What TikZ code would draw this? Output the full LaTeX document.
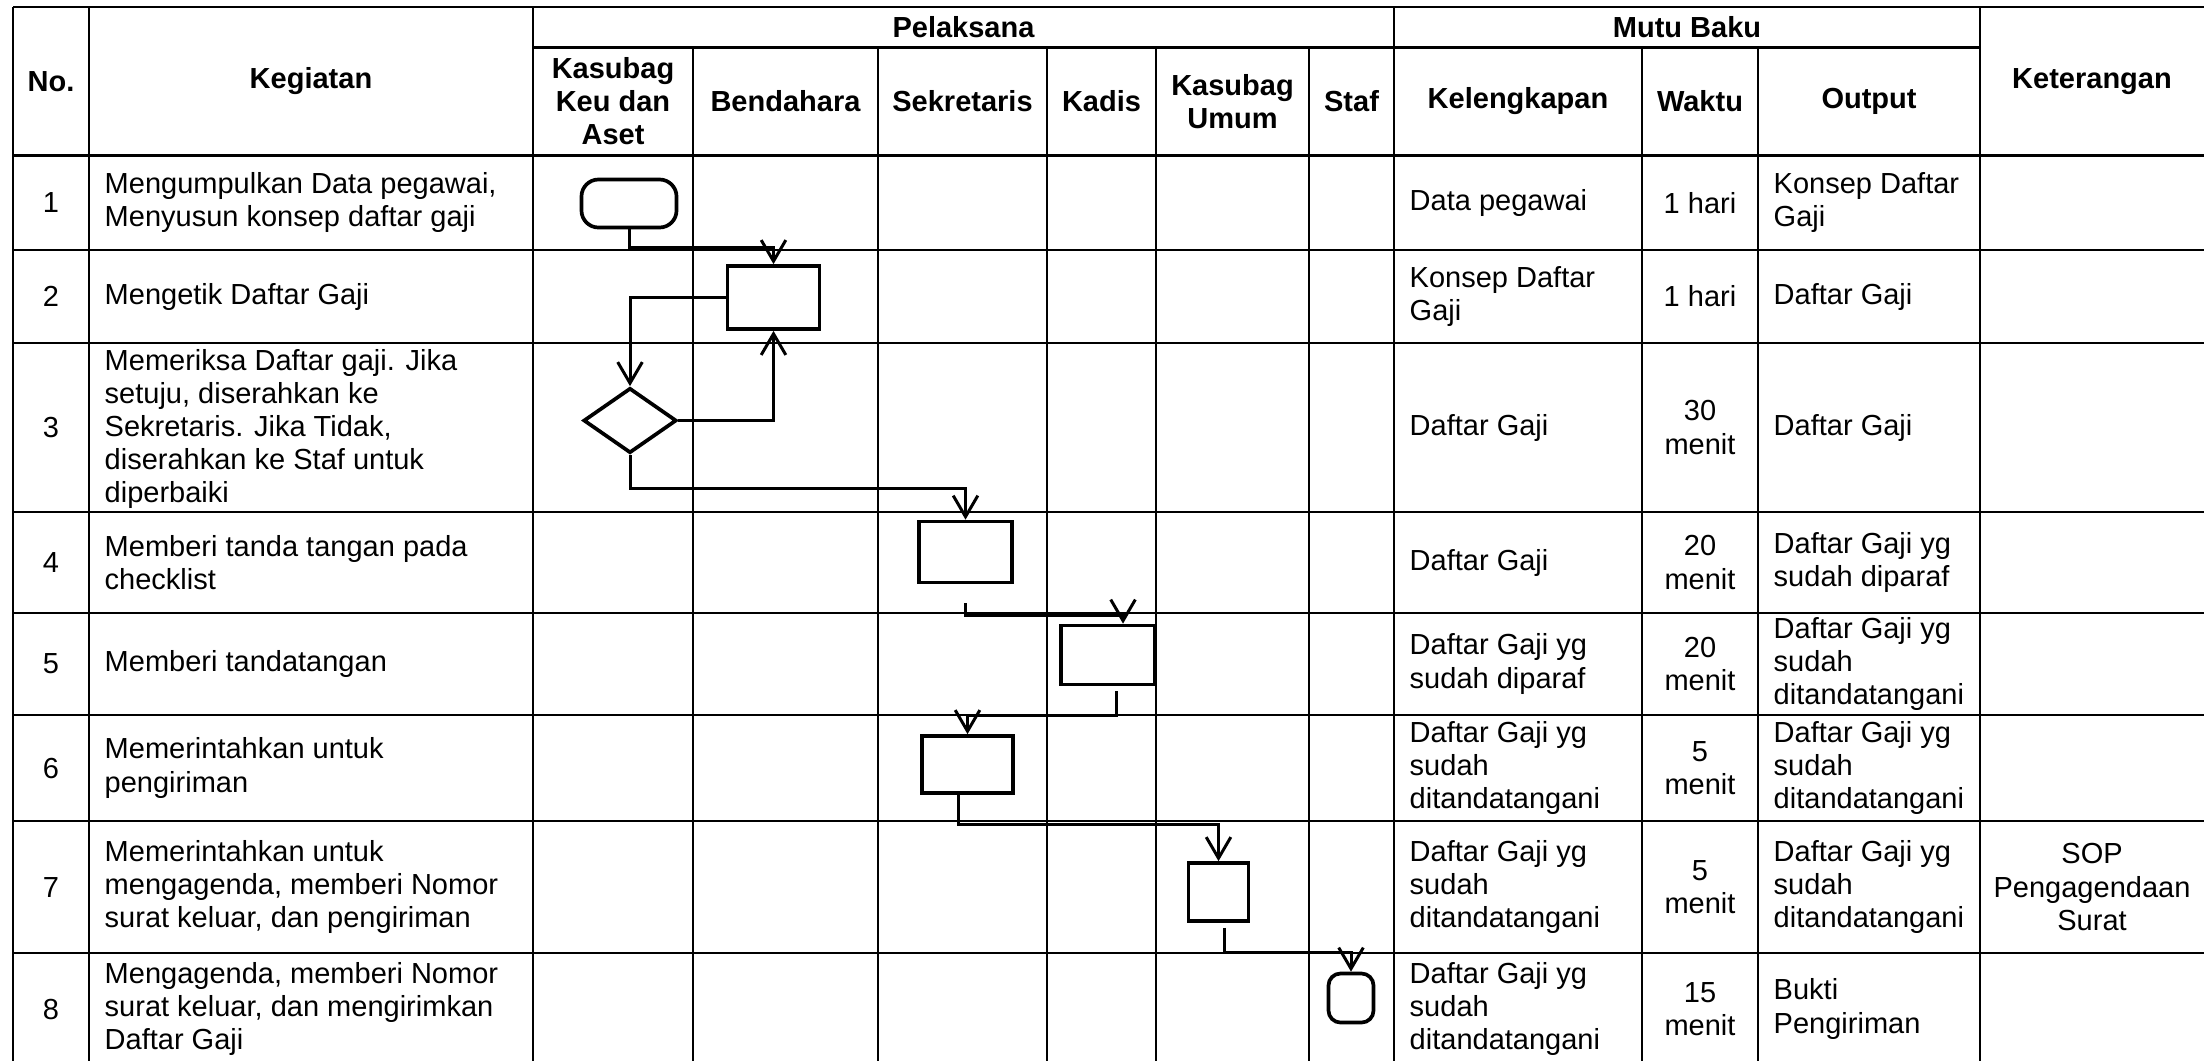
\documentclass[tikz,border=0pt]{standalone}
\usepackage{fontspec}
\setmainfont{Liberation Sans}
\usetikzlibrary{arrows.meta,shapes.geometric}

\begin{document}
\begin{tikzpicture}[
            x=0.01cm, y=-0.01cm,
            font=\fontsize{8.25pt}{9.4pt}\selectfont,
            grid/.style={line width=0.6pt},
            head/.style={font=\fontsize{8.25pt}{9.4pt}\selectfont\bfseries,
                                        align=center, inner sep=0pt},
            txt/.style={anchor=west, align=left, inner sep=0pt},
            mid/.style={align=center, inner sep=0pt},
            proc/.style={rectangle, draw=black, line width=1.05pt, inner sep=0pt},
            term/.style={proc, rounded corners=0.17cm},
            decision/.style={diamond, draw=black, line width=1.05pt, inner sep=0pt},
            flow/.style={-{Straight Barb[length=6pt,width=7pt]}, line width=0.85pt}
        ]

        \path[fill=white, use as bounding box] (0,0) rectangle (2204,1060);

        % Table rules
        \draw[grid] (13,7) -- (2204,7)
            (533,47.5) -- (1980,47.5)
            (13,155.5) -- (2204,155.5)
            (13,250) -- (2204,250)
            (13,343) -- (2204,343)
            (13,512) -- (2204,512)
            (13,613) -- (2204,613)
            (13,715) -- (2204,715)
            (13,821) -- (2204,821)
            (13,953) -- (2204,953);
        \draw[grid] (13,7) -- (13,1065)
            (89,7) -- (89,1065)
            (533,7) -- (533,1065)
            (1394,7) -- (1394,1065)
            (1980,7) -- (1980,1065);
        \draw[grid] (693,47.5) -- (693,1065)
            (878,47.5) -- (878,1065)
            (1047,47.5) -- (1047,1065)
            (1156,47.5) -- (1156,1065)
            (1309,47.5) -- (1309,1065)
            (1642,47.5) -- (1642,1065)
            (1758,47.5) -- (1758,1065);

        % Header
        \node[head] (no) at (51,81.25) {No.};
        \node[head] (kegiatan) at (311,81.25) {Kegiatan};
        \node[head] (pelaksana) at (963.5,27.25) {Pelaksana};
        \node[head] (mutu) at (1687,27.25) {Mutu Baku};
        \node[head] (keterangan) at (2092,81.25) {Keterangan};
        \node[head] (kasubagkeu) at (613,101.5) {Kasubag\\Keu dan\\Aset};
        \node[head] (bendahara) at (785.5,101.5) {Bendahara};
        \node[head] (sekretaris) at (962.5,101.5) {Sekretaris};
        \node[head] (kadis) at (1101.5,101.5) {Kadis};
        \node[head] (kasubagumum) at (1232.5,101.5) {Kasubag\\Umum};
        \node[head] (staf) at (1351.5,101.5) {Staf};
        \node[head] (kelengkapan) at (1518,101.5) {Kelengkapan};
        \node[head] (waktu) at (1700,101.5) {Waktu};
        \node[head] (output) at (1869,101.5) {Output};

        % Row 1
        \node[mid] (no1) at (51,202.75) {1};
        \node[txt] (keg1) at (104,202.75) {Mengumpulkan Data pegawai,\\Menyusun konsep daftar gaji};
        \node[txt] (kel1) at (1409,202.75) {Data pegawai};
        \node[mid] (wkt1) at (1700,202.75) {1 hari};
        \node[txt] (out1) at (1773,202.75) {Konsep Daftar\\Gaji};

        % Row 2
        \node[mid] (no2) at (51,296.5) {2};
        \node[txt] (keg2) at (104,296.5) {Mengetik Daftar Gaji};
        \node[txt] (kel2) at (1409,296.5) {Konsep Daftar\\Gaji};
        \node[mid] (wkt2) at (1700,296.5) {1 hari};
        \node[txt] (out2) at (1773,296.5) {Daftar Gaji};

        % Row 3
        \node[mid] (no3) at (51,427.5) {3};
        \node[txt] (keg3) at (104,429) {Memeriksa Daftar gaji. Jika\\setuju, diserahkan ke\\Sekretaris. Jika Tidak,\\diserahkan ke Staf untuk\\diperbaiki};
        \node[txt] (kel3) at (1409,427.5) {Daftar Gaji};
        \node[mid] (wkt3) at (1700,427.5) {30\\menit};
        \node[txt] (out3) at (1773,427.5) {Daftar Gaji};

        % Row 4
        \node[mid] (no4) at (51,562.5) {4};
        \node[txt] (keg4) at (104,562.5) {Memberi tanda tangan pada\\checklist};
        \node[txt] (kel4) at (1409,562.5) {Daftar Gaji};
        \node[mid] (wkt4) at (1700,562.5) {20\\menit};
        \node[txt] (out4) at (1773,562.5) {Daftar Gaji yg\\sudah diparaf};

        % Row 5
        \node[mid] (no5) at (51,664) {5};
        \node[txt] (keg5) at (104,664) {Memberi tandatangan};
        \node[txt] (kel5) at (1409,664) {Daftar Gaji yg\\sudah diparaf};
        \node[mid] (wkt5) at (1700,664) {20\\menit};
        \node[txt] (out5) at (1773,664) {Daftar Gaji yg\\sudah\\ditandatangani};

        % Row 6
        \node[mid] (no6) at (51,768) {6};
        \node[txt] (keg6) at (104,768) {Memerintahkan untuk\\pengiriman};
        \node[txt] (kel6) at (1409,768) {Daftar Gaji yg\\sudah\\ditandatangani};
        \node[mid] (wkt6) at (1700,768) {5\\menit};
        \node[txt] (out6) at (1773,768) {Daftar Gaji yg\\sudah\\ditandatangani};

        % Row 7
        \node[mid] (no7) at (51,887) {7};
        \node[txt] (keg7) at (104,887) {Memerintahkan untuk\\mengagenda, memberi Nomor\\surat keluar, dan pengiriman};
        \node[txt] (kel7) at (1409,887) {Daftar Gaji yg\\sudah\\ditandatangani};
        \node[mid] (wkt7) at (1700,887) {5\\menit};
        \node[txt] (out7) at (1773,887) {Daftar Gaji yg\\sudah\\ditandatangani};
        \node[mid] (ket7) at (2092,887) {SOP\\Pengagendaan\\Surat};

        % Row 8
        \node[mid] (no8) at (51,1009) {8};
        \node[txt] (keg8) at (104,1009) {Mengagenda, memberi Nomor\\surat keluar, dan mengirimkan\\Daftar Gaji};
        \node[txt] (kel8) at (1409,1009) {Daftar Gaji yg\\sudah\\ditandatangani};
        \node[mid] (wkt8) at (1700,1009) {15\\menit};
        \node[txt] (out8) at (1773,1009) {Bukti\\Pengiriman};

        % Flow symbols
        \node[term, minimum width=0.95cm, minimum height=0.48cm] (start) at (629,203.5) {};
        \node[proc, minimum width=0.92cm, minimum height=0.63cm] (ketik) at (773.5,297.5) {};
        \node[decision, minimum width=0.93cm, minimum height=0.65cm] (periksa) at (630,420.5) {};
        \node[proc, minimum width=0.93cm, minimum height=0.61cm] (paraf) at (965.5,552) {};
        \node[proc, minimum width=0.94cm, minimum height=0.59cm] (ttd) at (1108,655) {};
        \node[proc, minimum width=0.91cm, minimum height=0.57cm] (perintah) at (967.5,764.5) {};
        \node[proc, minimum width=0.60cm, minimum height=0.58cm] (agenda) at (1218.5,892) {};
        \node[term, rounded corners=0.12cm, minimum width=0.45cm, minimum height=0.49cm] (kirim) at (1351,998) {};

        % Connections
        \draw[flow] (start.south) -- ++(0,18.5) -| (ketik.north);
        \draw[flow] (ketik.west) -| (periksa.north);
        \draw[flow] (periksa.east) -| (ketik.south);
        \draw[flow] (periksa.south) -- ++(0,34) -| (paraf.north);
        \draw[flow, shorten <=0.19cm] (paraf.south) -- ++(0,31.3) -| ([xshift=0.15cm]ttd.north);
        \draw[flow, shorten <=0.05cm] ([xshift=0.08cm]ttd.south) -- ++(0,29) -| (perintah.north);
        \draw[flow] ([xshift=-0.09cm]perintah.south) -- ++(0,30) -| (agenda.north);
        \draw[flow, shorten <=0.05cm] ([xshift=0.06cm]agenda.south) -- ++(0,29.7) -| (kirim.north);

\end{tikzpicture}
\end{document}
